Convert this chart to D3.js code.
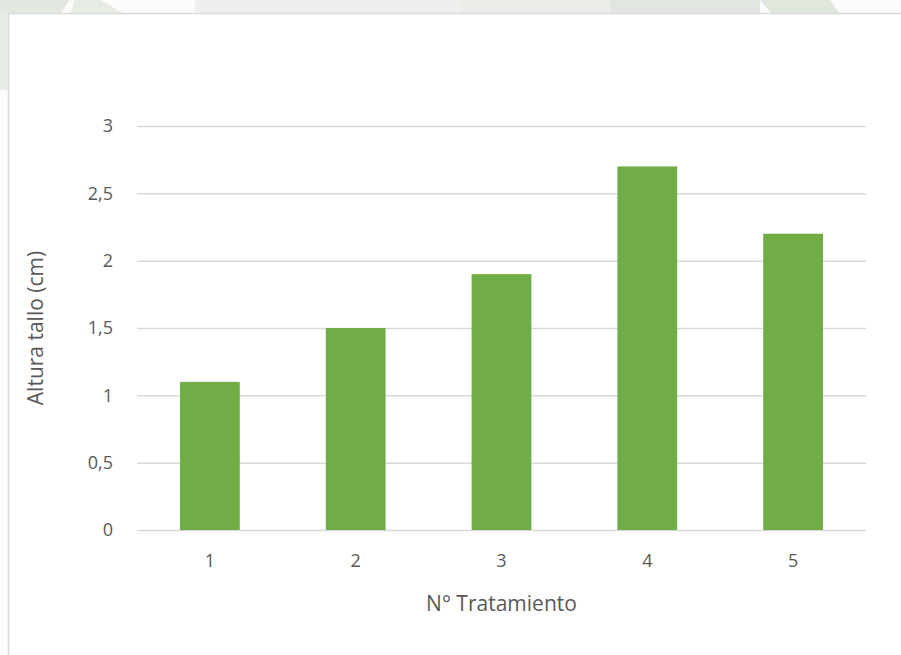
<!DOCTYPE html>
<html>
<head>
<meta charset="utf-8">
<script src="https://cdn.jsdelivr.net/npm/d3@7"></script>
<style>
  html, body { margin: 0; padding: 0; background: #fff; }
  svg { display: block; }
  text { font-family: "Open Sans", "Noto Sans", sans-serif; fill: #595959; }
</style>
</head>
<body>
<svg id="chart" width="901" height="655"></svg>
<script>
// Treatment numbers and mean stem height (cm)
const categories = ["1", "2", "3", "4", "5"];
const heights = [1.1, 1.5, 1.9, 2.7, 2.2];
const yTicks = [0, 0.5, 1, 1.5, 2, 2.5, 3];
const yTickLabels = ["0", "0,5", "1", "1,5", "2", "2,5", "3"];
const xTitle = "N° Tratamiento";
const yTitle = "Altura tallo (cm)";

const svg = d3.select("#chart");
const W = 901, H = 655;

// faint page background behind the chart frame
const bg = svg.append("g");
bg.append("rect").attr("width", W).attr("height", H).attr("fill", "#fbfcfb");
const shapes = [
  [[0,0],[70,0],[60,14],[0,14]],
  [[75,0],[100,0],[125,14],[70,14]],
  [[195,0],[460,0],[460,14],[195,14]],
  [[460,0],[610,0],[610,14],[460,14]],
  [[610,0],[760,0],[760,14],[610,14]],
  [[760,0],[830,0],[840,14],[772,14]],
  [[0,14],[9,14],[9,90],[0,90]]
];
const shapeFill = ["#e3e9e1","#e6ebe4","#eef0ed","#eaede8","#e2e6e0","#e0e7dc","#e8ece6"];
bg.selectAll("path.wm").data(shapes).join("path")
  .attr("class", "wm")
  .attr("d", d => d3.line()(d) + "Z")
  .attr("fill", (d, i) => shapeFill[i]);

// chart frame
svg.append("rect")
  .attr("x", 8.5).attr("y", 13.5)
  .attr("width", W).attr("height", H)
  .attr("fill", "#fff")
  .attr("stroke", "#d9d9d9").attr("stroke-width", 1.5);

const plot = { left: 137, right: 866, top: 126, bottom: 530 };

const x = d3.scaleBand()
  .domain(categories)
  .range([plot.left, plot.right])
  .paddingInner(0.59)
  .paddingOuter(0.295);

const y = d3.scaleLinear()
  .domain([0, 3])
  .range([plot.bottom, plot.top]);

// horizontal gridlines
svg.append("g")
  .attr("transform", `translate(${plot.left},0)`)
  .call(d3.axisLeft(y).tickValues(yTicks).tickSize(-(plot.right - plot.left)).tickFormat(""))
  .call(g => g.select(".domain").remove())
  .call(g => g.selectAll(".tick line").attr("stroke", "#d9d9d9").attr("stroke-width", 1.5));

// bars
svg.append("g").selectAll("rect")
  .data(heights)
  .join("rect")
  .attr("x", (d, i) => x(categories[i]))
  .attr("y", d => y(d))
  .attr("width", x.bandwidth())
  .attr("height", d => y(0) - y(d))
  .attr("fill", "#70ad47");

// y tick labels
svg.append("g")
  .attr("transform", `translate(${plot.left - 24},0)`)
  .call(d3.axisLeft(y).tickValues(yTicks).tickSize(0).tickPadding(0)
    .tickFormat((d, i) => yTickLabels[i]))
  .call(g => g.select(".domain").remove())
  .call(g => g.selectAll("text")
    .style("font-size", "18px").attr("fill", "#595959")
    .style("font-family", '"Open Sans", sans-serif'));

// x tick labels
svg.append("g")
  .attr("transform", `translate(0,${plot.bottom + 24})`)
  .call(d3.axisBottom(x).tickSize(0).tickPadding(0))
  .call(g => g.select(".domain").remove())
  .call(g => g.selectAll("text")
    .style("font-size", "18px").attr("fill", "#595959")
    .style("font-family", '"Open Sans", sans-serif'));

// axis titles
svg.append("text")
  .attr("x", (plot.left + plot.right) / 2)
  .attr("y", 611)
  .attr("text-anchor", "middle")
  .style("font-size", "21px")
  .text(xTitle);

svg.append("text")
  .attr("transform", `translate(43,${(plot.top + plot.bottom) / 2}) rotate(-90)`)
  .attr("text-anchor", "middle")
  .style("font-size", "21px")
  .text(yTitle);
</script>
</body>
</html>
